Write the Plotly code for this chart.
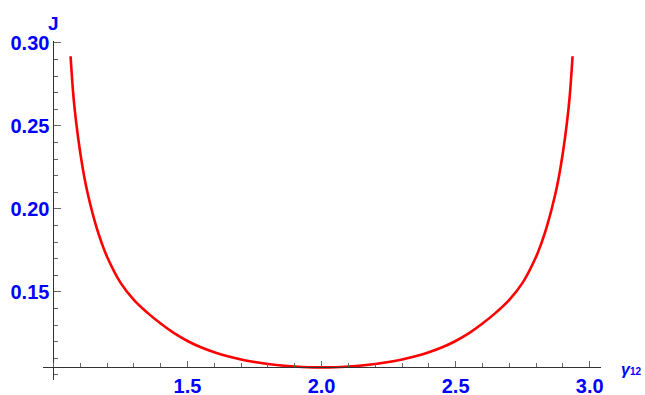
import plotly.graph_objects as go

# Data (curve is symmetric about gamma12 = 2)
gamma12 = [1.064, 1.075, 1.085, 1.100, 1.115, 1.130, 1.160, 1.180, 1.200, 1.250,
           1.300, 1.350, 1.400, 1.450, 1.500, 1.550, 1.600, 1.650, 1.700, 1.750,
           1.800, 1.850, 1.900, 1.950, 2.000,
           2.050, 2.100, 2.150, 2.200, 2.250, 2.300, 2.350, 2.400, 2.450, 2.500,
           2.550, 2.600, 2.650, 2.700, 2.750, 2.800, 2.820, 2.840, 2.870, 2.885,
           2.900, 2.915, 2.925, 2.936]
J = [0.2920, 0.2672, 0.2520, 0.2340, 0.2194, 0.2078, 0.1893, 0.1795, 0.1712, 0.1556,
     0.1452, 0.1375, 0.1309, 0.1251, 0.1204, 0.1166, 0.1136, 0.1112, 0.1092, 0.1077,
     0.1065, 0.1056, 0.1050, 0.1046, 0.1045,
     0.1046, 0.1050, 0.1056, 0.1065, 0.1077, 0.1092, 0.1112, 0.1136, 0.1166, 0.1204,
     0.1251, 0.1309, 0.1375, 0.1452, 0.1556, 0.1712, 0.1795, 0.1893, 0.2078, 0.2194,
     0.2340, 0.2520, 0.2672, 0.2920]

x_ticks = [1.5, 2.0, 2.5, 3.0]
x_tick_labels = ["1.5", "2.0", "2.5", "3.0"]
y_ticks = [0.15, 0.20, 0.25, 0.30]
y_tick_labels = ["0.15", "0.20", "0.25", "0.30"]

x_origin = 1.0
y_origin = 0.1045
x_range = [0.9612, 3.042]
y_range = [0.0969, 0.3012]

blue = "#0000ff"
font_family = "Liberation Sans, Arial, sans-serif"

fig = go.Figure()
fig.add_trace(go.Scatter(
    x=gamma12, y=J, mode="lines",
    line=dict(color="#ff0000", width=2.6, shape="spline", smoothing=1.0),
    hoverinfo="skip", showlegend=False,
))

fig.update_layout(
    width=645, height=395,
    margin=dict(l=43, r=44, t=41, b=15, autoexpand=False),
    paper_bgcolor="white", plot_bgcolor="white",
    font=dict(family=font_family),
    xaxis=dict(
        range=x_range, anchor="free", automargin=False,
        position=(y_origin - y_range[0]) / (y_range[1] - y_range[0]),
        showgrid=False, zeroline=False,
        showline=True, linecolor="#333333", linewidth=1,
        tickmode="array", tickvals=x_ticks, ticktext=x_tick_labels,
        ticks="inside", ticklen=6, tickwidth=1, tickcolor="#666666",
        tickfont=dict(family=font_family, size=20, color=blue, weight="bold"),
        ticklabelstandoff=1,
        minor=dict(tickmode="linear", tick0=1.0, dtick=0.1, ticks="inside",
                   ticklen=4, tickwidth=1, tickcolor="#666666", showgrid=False),
    ),
    yaxis=dict(
        range=y_range, anchor="free", automargin=False,
        position=(x_origin - x_range[0]) / (x_range[1] - x_range[0]),
        showgrid=False, zeroline=False,
        showline=True, linecolor="#333333", linewidth=1,
        tickmode="array", tickvals=y_ticks, ticktext=y_tick_labels,
        ticks="inside", ticklen=7, tickwidth=1, tickcolor="#666666",
        tickfont=dict(family=font_family, size=20, color=blue, weight="bold"),
        ticklabelstandoff=0,
        minor=dict(tickmode="linear", tick0=0.0, dtick=0.01, ticks="inside",
                   ticklen=4, tickwidth=1, tickcolor="#666666", showgrid=False),
    ),
    annotations=[
        dict(text="<b>J</b>", x=x_origin, xref="x", y=1, yref="paper",
             xanchor="center", yanchor="bottom", yshift=5, showarrow=False,
             font=dict(family=font_family, size=19, color=blue)),
        dict(text="<b><i>γ</i><span style='font-size:10px'>12</span></b>",
             x=1, xref="paper", y=y_origin, yref="y",
             xanchor="left", yanchor="middle", xshift=18, yshift=-2, showarrow=False,
             font=dict(family=font_family, size=16, color=blue)),
    ],
)

fig.write_html(
    "out.html",
    config={"displayModeBar": False},
    post_script="document.body.style.margin='0';document.body.style.overflow='hidden';",
)
